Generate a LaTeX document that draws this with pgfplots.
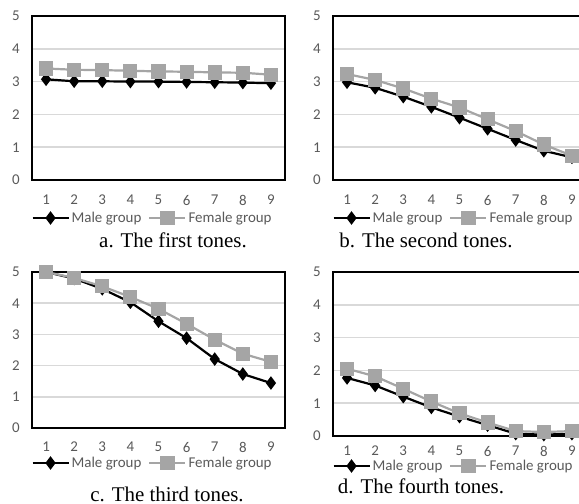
\documentclass[border=0pt]{standalone}
\usepackage{pgfplots}
\pgfplotsset{compat=1.18}
\usepackage{fontspec}
\setmainfont{Carlito}
\newfontfamily\timesfont{Liberation Serif}
\definecolor{gridgray}{HTML}{D9D9D9}
\definecolor{labgray}{HTML}{595959}
\definecolor{femgray}{HTML}{A5A5A5}
\pgfplotsset{
  tonestyle/.style={
    scale only axis, anchor=south west,
    xmin=0.5, xmax=9.5, ymin=0, ymax=5,
    xtick={1,...,9}, ytick={0,...,5},
    ymajorgrids, major grid style={color=gridgray, line width=1.5bp},
    major tick length=0pt,
    axis line style={line width=1.5bp, black},
    tick label style={font=\fontsize{15}{15}\selectfont, text=labgray},
    /pgf/number format/assume math mode=true,
    yticklabel style={inner sep=0pt, xshift=-12bp},
    clip=false,
    legend columns=2,
    legend style={draw=none, fill=none, font=\fontsize{15}{15}\selectfont, text=labgray,
      at={(0.5,0)}, anchor=center, inner sep=0pt, xshift=-6bp,
      /tikz/every even column/.append style={column sep=5bp}},
    legend image code/.code={\draw[mark repeat=2, mark phase=2] plot coordinates {(0bp,0bp) (18bp,0bp) (36bp,0bp)};},
  },
  male/.style={black, line width=2.2bp, mark=diamond*, mark size=5bp, mark options={solid, fill=black}},
  female/.style={femgray, line width=2.2bp, mark=square*, mark size=6bp, mark options={solid, fill=femgray}},
}
\tikzset{capt/.style={anchor=base, font={\timesfont\fontsize{21}{21}\selectfont}}}
\begin{document}
\begin{tikzpicture}
\useasboundingbox (0bp,0bp) rectangle (579bp,504bp);
\clip (0bp,0bp) rectangle (579bp,504bp);
% a
\begin{axis}[tonestyle, at={(32bp,324bp)}, width=253bp, height=164bp, legend style={yshift=-38bp}, xticklabel style={inner sep=0pt, yshift=-15bp}]
\addplot[male] coordinates {(1,3.07) (2,3.01) (3,3.01) (4,3.00) (5,3.00) (6,2.99) (7,2.98) (8,2.97) (9,2.95)};
\addplot[female] coordinates {(1,3.40) (2,3.36) (3,3.35) (4,3.33) (5,3.31) (6,3.30) (7,3.28) (8,3.27) (9,3.21)};
\legend{Male group, Female group}
\end{axis}
% b
\begin{axis}[tonestyle, at={(333bp,324bp)}, width=253bp, height=164bp, legend style={yshift=-38bp}, xticklabel style={inner sep=0pt, yshift=-15bp}]
\addplot[male] coordinates {(1,2.98) (2,2.81) (3,2.54) (4,2.23) (5,1.90) (6,1.56) (7,1.22) (8,0.89) (9,0.69)};
\addplot[female] coordinates {(1,3.23) (2,3.05) (3,2.79) (4,2.48) (5,2.21) (6,1.85) (7,1.49) (8,1.08) (9,0.74)};
\legend{Male group, Female group}
\end{axis}
% c
\begin{axis}[tonestyle, at={(32bp,76bp)}, width=253bp, height=156bp, legend style={yshift=-35bp}, xticklabel style={inner sep=0pt, yshift=-14bp}]
\addplot[male] coordinates {(1,5.00) (2,4.79) (3,4.46) (4,4.03) (5,3.42) (6,2.88) (7,2.21) (8,1.73) (9,1.44)};
\addplot[female] coordinates {(1,5.00) (2,4.81) (3,4.54) (4,4.20) (5,3.82) (6,3.34) (7,2.83) (8,2.38) (9,2.12)};
\legend{Male group, Female group}
\end{axis}
% d
\begin{axis}[tonestyle, at={(333bp,68bp)}, width=253bp, height=164bp, legend style={yshift=-30bp}, xticklabel style={inner sep=0pt, yshift=-10bp}]
\addplot[male] coordinates {(1,1.77) (2,1.54) (3,1.20) (4,0.87) (5,0.59) (6,0.33) (7,0.07) (8,0.04) (9,0.07)};
\addplot[female] coordinates {(1,2.05) (2,1.82) (3,1.44) (4,1.05) (5,0.69) (6,0.41) (7,0.15) (8,0.12) (9,0.15)};
\legend{Male group, Female group}
\end{axis}
\node[capt] at (173bp,256bp) {a. The first tones.};
\node[capt] at (426bp,256bp) {b. The second tones.};
\node[capt] at (167bp,3bp) {c. The third tones.};
\node[capt] at (421bp,11bp) {d. The fourth tones.};
\end{tikzpicture}
\end{document}
